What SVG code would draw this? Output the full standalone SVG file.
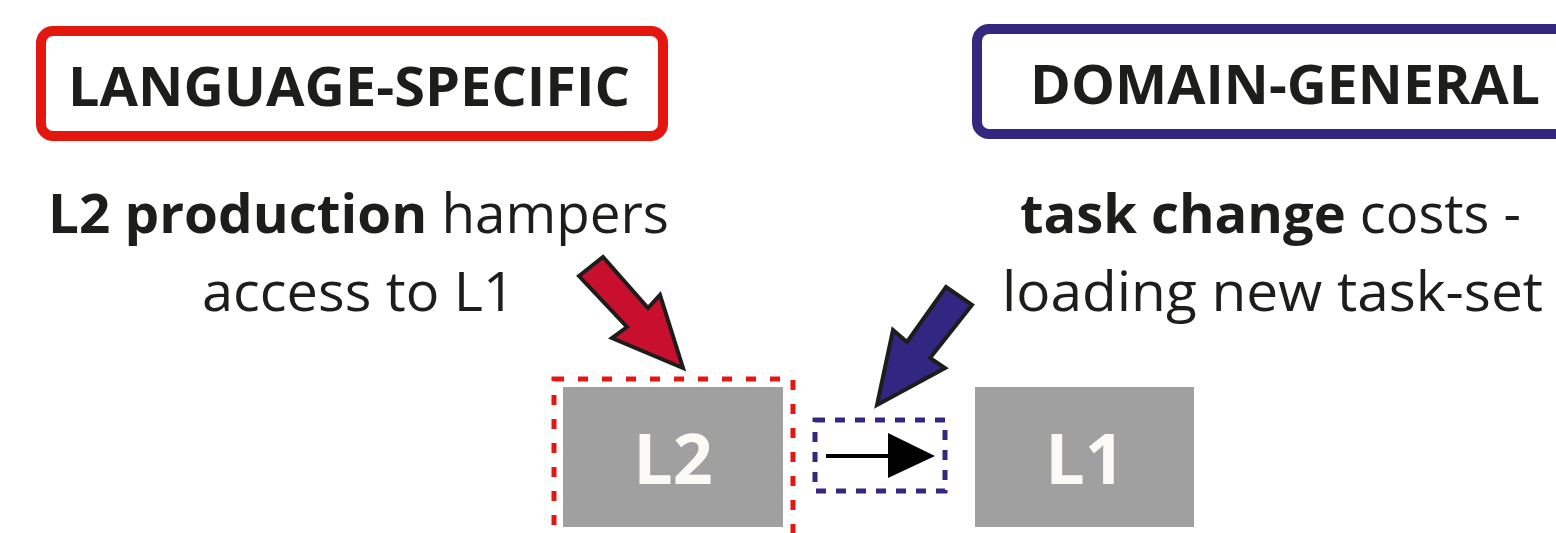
<svg xmlns="http://www.w3.org/2000/svg" width="1556" height="533" viewBox="0 0 1556 533">
<style>
.t{font-family:"Open Sans","Liberation Sans",sans-serif;fill:#1d1d1b}
.h{font-weight:bold;font-size:54px}
.b{font-size:54px}
.g{fill:#a0a0a0}
.gl{font-family:"Open Sans","Liberation Sans",sans-serif;font-weight:bold;font-size:70px;fill:#fbfaf5;text-anchor:middle}
</style>
<rect width="1556" height="533" fill="#fff"/>
<g id="language-specific">
<rect x="41" y="31" width="622" height="105" rx="12" fill="#fff" stroke="#e3170f" stroke-width="10"/>
<text class="t h" x="68" y="106" textLength="562" lengthAdjust="spacingAndGlyphs">LANGUAGE-SPECIFIC</text>
</g>
<g id="domain-general">
<rect x="977" y="29" width="620" height="105" rx="12" fill="#fff" stroke="#33277f" stroke-width="10"/>
<text class="t h" x="1030" y="104" textLength="510" lengthAdjust="spacingAndGlyphs">DOMAIN-GENERAL</text>
</g>
<g id="ls-text">
<text class="t b" x="48" y="233" textLength="621" lengthAdjust="spacingAndGlyphs"><tspan font-weight="bold">L2 production</tspan> hampers</text>
<text class="t b" x="202" y="311" textLength="313" lengthAdjust="spacingAndGlyphs">access to L1</text>
</g>
<g id="dg-text">
<text class="t b" x="1020" y="233" textLength="501" lengthAdjust="spacingAndGlyphs"><tspan font-weight="bold">task change</tspan> costs -</text>
<text class="t b" x="1002" y="311" textLength="541" lengthAdjust="spacingAndGlyphs">loading new task-set</text>
</g>
<g id="L2">
<rect class="g" x="563" y="387" width="220" height="140"/>
<text class="gl" x="673" y="484">L2</text>
</g>
<g id="L1">
<rect class="g" x="975" y="387" width="219" height="140"/>
<text class="gl" x="1085" y="484">L1</text>
</g>
<g id="connectors">
<rect x="554" y="379" width="239" height="170" fill="none" stroke="#e3170f" stroke-width="5" stroke-dasharray="10 14"/>
<rect x="815" y="420" width="130" height="71" fill="none" stroke="#33277f" stroke-width="5" stroke-dasharray="10 10"/>
<line x1="826" y1="456" x2="892" y2="456" stroke="#000" stroke-width="4"/>
<polygon points="888,433 935,456 888,478" fill="#000"/>
<polygon points="579,276 603,257 648,308 660,295 683,368 612,338 627,327" fill="#c8102e" stroke="#1d1d1b" stroke-width="4" stroke-linejoin="miter"/>
<polygon points="946,287 972,305 930,358 945,368 877,405 893,330 907,342" fill="#312783" stroke="#1d1d1b" stroke-width="4" stroke-linejoin="miter"/>
</g>
</svg>
